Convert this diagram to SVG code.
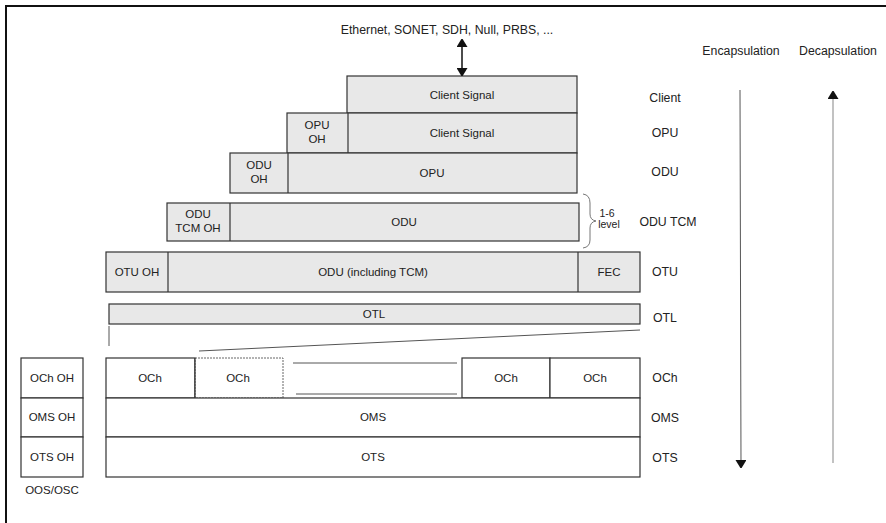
<svg xmlns="http://www.w3.org/2000/svg" width="886" height="523" viewBox="0 0 886 523">
<style>
text{font-family:"Liberation Sans",Arial,sans-serif;font-size:11.5px;fill:#222;text-anchor:middle}
.big{font-size:12.3px}
.g{fill:#e8e8e8;stroke:#333;stroke-width:1.2}
.w{fill:#fff;stroke:#333;stroke-width:1.2}
.ln{stroke:#333;stroke-width:1.2;fill:none}
</style>
<defs>
<marker id="ah" markerWidth="8" markerHeight="11" refX="7" refY="5.5" orient="auto-start-reverse" markerUnits="userSpaceOnUse">
<path d="M0,0 L9,5.5 L0,11 z" fill="#111"/>
</marker>
</defs>
<rect width="886" height="523" fill="#fff"/>
<path d="M6,523 V6 H886" fill="none" stroke="#111" stroke-width="2"/>

<g id="clients">
<text class="big" x="447" y="34">Ethernet, SONET, SDH, Null, PRBS, ...</text>
</g>

<g id="client-row">
<rect class="g" x="347" y="76" width="230" height="37"/>
<text x="462" y="99">Client Signal</text>
</g>
<g id="opu-row">
<rect class="g" x="287" y="113" width="290" height="40"/>
<line class="ln" x1="348" y1="113" x2="348" y2="153"/>
<text x="317" y="129">OPU</text><text x="317" y="143">OH</text>
<text x="462" y="137">Client Signal</text>
</g>
<g id="odu-row">
<rect class="g" x="230" y="153" width="347" height="40"/>
<line class="ln" x1="288" y1="153" x2="288" y2="193"/>
<text x="259" y="169">ODU</text><text x="259" y="183">OH</text>
<text x="432" y="177">OPU</text>
</g>
<g id="odutcm-row">
<rect class="g" x="167" y="203" width="412" height="38"/>
<line class="ln" x1="230" y1="203" x2="230" y2="241"/>
<text x="198" y="218">ODU</text><text x="198" y="232">TCM OH</text>
<text x="404" y="226">ODU</text>
</g>
<g id="brace">
<path d="M583,194 Q590,195 590,203 L590,214 Q590,220 596,221 Q590,222 590,228 L590,240 Q590,247 583,248" fill="none" stroke="#777" stroke-width="1"/>
<text x="607" y="217" style="font-size:10.5px">1-6</text>
<text x="609" y="228" style="font-size:10.5px">level</text>
</g>
<g id="otu-row">
<rect class="g" x="106" y="252" width="534" height="40"/>
<line class="ln" x1="168" y1="252" x2="168" y2="292"/>
<line class="ln" x1="578" y1="252" x2="578" y2="292"/>
<text x="137" y="276">OTU OH</text>
<text x="373" y="276">ODU (including TCM)</text>
<text x="609" y="276">FEC</text>
</g>
<g id="otl-row">
<rect class="g" x="109" y="304" width="531" height="20"/>
<text x="374" y="318">OTL</text>
</g>
<g id="och-row">
<rect class="w" x="106" y="358" width="89" height="40"/>
<text x="150" y="382">OCh</text>
<rect x="195" y="358" width="88" height="40" fill="#fff" stroke="#666" stroke-width="1" stroke-dasharray="2,1"/>
<line class="ln" x1="195" y1="358" x2="195" y2="398"/>
<text x="238" y="382">OCh</text>
<line x1="293" y1="363" x2="457" y2="363" stroke="#555" stroke-width="1"/>
<line x1="296" y1="394" x2="457" y2="394" stroke="#555" stroke-width="1"/>
<rect class="w" x="462" y="358" width="88" height="40"/>
<text x="506" y="382">OCh</text>
<rect class="w" x="550" y="358" width="90" height="40"/>
<text x="595" y="382">OCh</text>
</g>
<g id="oms-row">
<rect class="w" x="106" y="398" width="534" height="39"/>
<text x="373" y="421">OMS</text>
</g>
<g id="ots-row">
<rect class="w" x="106" y="437" width="534" height="40"/>
<text x="373" y="461">OTS</text>
</g>
<g id="osc">
<rect class="w" x="21" y="358" width="62" height="40"/>
<rect class="w" x="21" y="398" width="62" height="39"/>
<rect class="w" x="21" y="437" width="62" height="40"/>
<text x="52" y="382">OCh OH</text>
<text x="52" y="421">OMS OH</text>
<text x="52" y="461">OTS OH</text>
<text x="52" y="494">OOS/OSC</text>
</g>
<g id="layer-labels">
<text class="big" x="665" y="102">Client</text>
<text class="big" x="665" y="137">OPU</text>
<text class="big" x="665" y="176">ODU</text>
<text class="big" x="668" y="226">ODU TCM</text>
<text class="big" x="665" y="276">OTU</text>
<text class="big" x="665" y="322">OTL</text>
<text class="big" x="665" y="382">OCh</text>
<text class="big" x="665" y="422">OMS</text>
<text class="big" x="665" y="462">OTS</text>
<text class="big" x="741" y="55">Encapsulation</text>
<text class="big" x="838" y="55">Decapsulation</text>
</g>
<g id="connectors">
<line x1="462" y1="40" x2="462" y2="75" stroke="#111" stroke-width="1.5" marker-start="url(#ah)" marker-end="url(#ah)"/>
<line x1="109" y1="326" x2="109" y2="346" stroke="#555" stroke-width="1"/>
<line x1="199" y1="351" x2="640" y2="330" stroke="#555" stroke-width="1"/>
<line x1="740" y1="90" x2="741" y2="467" stroke="#555" stroke-width="1" marker-end="url(#ah)"/>
<line x1="833" y1="463" x2="833" y2="92" stroke="#999" stroke-width="1.2" marker-end="url(#ah)"/>
</g>
</svg>
